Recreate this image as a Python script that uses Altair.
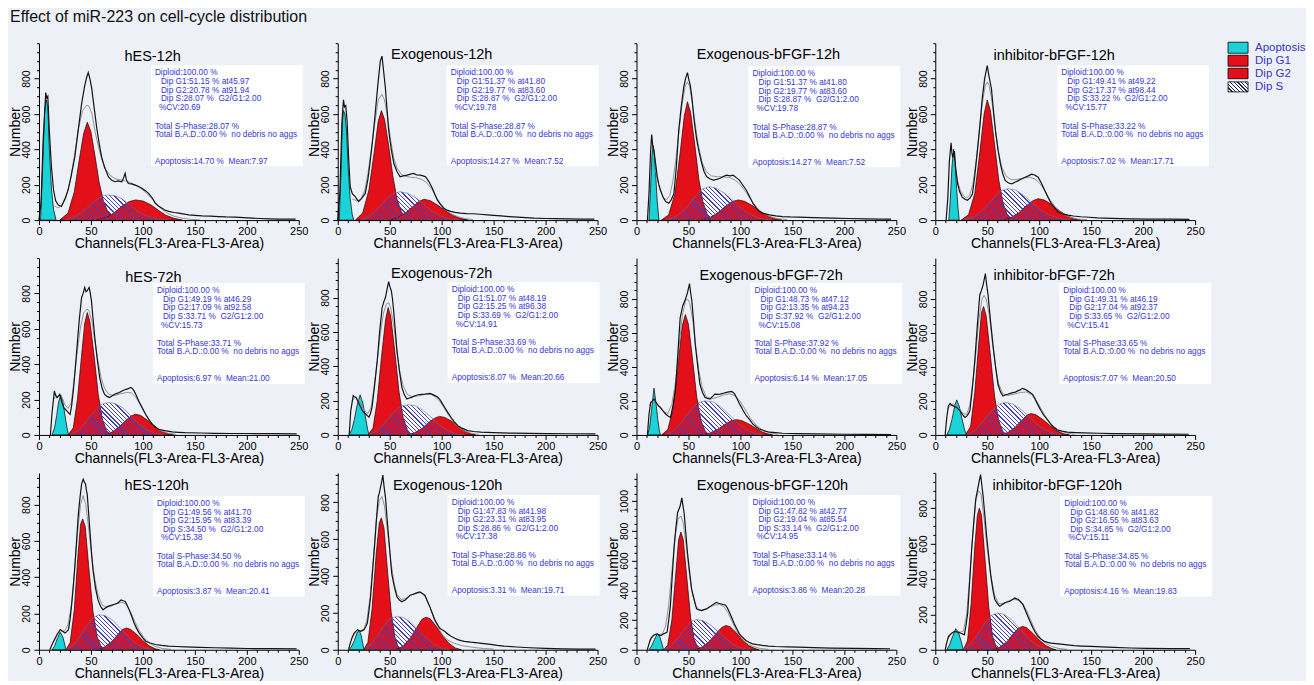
import math
import altair as alt
import pandas as pd

FONT = "Liberation Sans"
BG = "#eef0f7"
RED = "#e3101a"
CYAN = "#1ad3d8"
BLUE_TXT = "#3535d5"

PANELS = ["hES-12h", "Exogenous-12h", "Exogenous-bFGF-12h", "inhibitor-bFGF-12h",
          "hES-72h", "Exogenous-72h", "Exogenous-bFGF-72h", "inhibitor-bFGF-72h",
          "hES-120h", "Exogenous-120h", "Exogenous-bFGF-120h", "inhibitor-bFGF-120h"]
Y_TOP = [1000, 1000, 1000, 1000, 1000, 1030, 1040, 1040, 975, 960, 1190, 1000]
Y_LABEL_MAX = [800, 800, 800, 800, 800, 800, 800, 800, 800, 800, 1000, 800]

# statistics printed in the boxes
G1_PCT = [51.15, 51.37, 51.37, 49.41, 49.19, 51.07, 48.73, 49.31, 49.56, 47.83, 47.82, 48.60]
G1_AT = [45.97, 41.80, 41.80, 49.22, 46.29, 48.19, 47.12, 46.19, 41.70, 41.98, 42.77, 41.82]
G2_PCT = [20.78, 19.77, 19.77, 17.37, 17.09, 15.25, 13.35, 17.04, 15.95, 23.31, 19.04, 16.55]
G2_AT = [91.94, 83.60, 83.60, 98.44, 92.58, 96.38, 94.23, 92.37, 83.39, 83.95, 85.54, 83.63]
S_PCT = [28.07, 28.87, 28.87, 33.22, 33.71, 33.69, 37.92, 33.65, 34.50, 28.86, 33.14, 34.85]
CV = [20.69, 19.78, 19.78, 15.77, 15.73, 14.91, 15.08, 15.41, 15.38, 17.38, 14.95, 15.11]
APOP_PCT = [14.70, 14.27, 14.27, 7.02, 6.97, 8.07, 6.14, 7.07, 3.87, 3.31, 3.86, 4.16]
MEAN = [7.97, 7.52, 7.52, 17.71, 21.00, 20.66, 17.05, 20.50, 20.41, 19.71, 20.28, 19.83]

LEGEND_LABELS = ["Apoptosis", "Dip G1", "Dip G2", "Dip S"]

# raw histogram (black line), channel / count
HIST = {
    "hES-12h": [(0,0),(2,100),(4,450),(6.5,721),(7.5,690),(8.5,700),(10,500),(12,300),(14,170),(16,110),(18.4,86),(21.6,77),(25,120),(28,170),(31,250),(34.5,357),(38,520),(41,656),(44,760),(45.8,805),(47.4,834),(49,800),(50.6,750),(53,640),(55.5,525),(58,430),(60.3,357),(63,300),(66.8,245),(70,225),(73.2,217),(76,222),(79.7,217),(81.5,240),(82.9,264),(84,230),(86,207),(89,205),(92.6,198),(96,190),(99,180),(102,168),(105.5,151),(109,125),(112,95),(115,80),(118.4,67),(121,57),(124.8,49),(130,43),(134.5,39),(140,34),(144,30),(150,27),(157,24),(165,22),(173,20),(180,18),(189,17),(197,14),(205,11),(213,9),(221.6,7),(230,6),(238,6),(247,5)],
    "Exogenous-12h": [(0,0),(2,150),(4,550),(5.5,680),(6.5,640),(7.7,647),(9,560),(10.5,350),(12,189),(14,150),(16.8,133),(20,105),(23,123),(26.5,151),(29,230),(31,320),(33.5,450),(36,600),(38.5,760),(41,900),(42.6,927),(44,850),(45.8,750),(47.5,620),(49,507),(51.5,400),(54,320),(57,275),(60,245),(63,250),(66.8,254),(70,260),(73,264),(76,255),(79.7,254),(82,250),(84.5,245),(88,215),(91,180),(93.5,145),(95.8,114),(99,88),(102,67),(105,56),(108.7,49),(113,44),(118,39),(124,37),(131,36),(137,33),(144,30),(150,27),(157,24),(165,20),(173,17),(181,14),(189,11),(200,9),(210,8),(221.6,7),(235,6),(247,5)],
    "Exogenous-bFGF-12h": [(10.5,0),(12,150),(13.5,380),(14.6,484),(15.6,420),(16.8,394),(18.4,320),(20,245),(21.5,200),(23,170),(25.5,130),(28,105),(31,95),(33.5,115),(36,151),(38.3,300),(40.6,506),(43,640),(45.4,750),(47.2,800),(49,834),(50.5,790),(51.8,760),(53.3,693),(55.5,560),(58,450),(60.4,380),(62.8,320),(65,275),(67.6,245),(71,232),(74,226),(77,230),(80,235),(83,245),(86.6,254),(90,250),(93,254),(96,240),(99,226),(102,200),(105.6,170),(109,130),(112,95),(115,70),(118,49),(122,38),(128,30),(134,24),(140.5,20),(148,18),(156,17),(170,14),(188,11),(204,9),(220,7),(233,6),(245,5)],
    "inhibitor-bFGF-12h": [(10.4,0),(12,120),(13.5,330),(15.2,437),(16,380),(16.8,353),(17.6,375),(18.4,390),(19.5,300),(21.5,205),(23.5,160),(26,130),(28.5,118),(31,112),(33.5,125),(35.8,149),(38,250),(40.5,390),(43,540),(45.2,688),(47.5,800),(50,874),(51.5,820),(54,744),(56,620),(58,502),(60.3,400),(62.7,316),(65,260),(67.4,223),(70.5,210),(73.7,205),(77,215),(80,223),(83,232),(86.4,242),(89.5,250),(92.7,260),(95.5,255),(99,242),(102,210),(105.4,167),(108.5,128),(111.7,93),(115,68),(118,47),(122,36),(127.5,28),(133,23),(140,19),(148,16),(156,13),(170,10),(187.7,7),(205,6),(225,5),(244.6,4)],
    "hES-72h": [(11,0),(12.5,120),(14.8,249),(16,225),(17.4,211),(18.7,220),(20,230),(21.8,190),(23.7,155),(25.3,145),(26.8,136),(28.4,125),(30,117),(31.5,170),(33,249),(34.7,360),(36.3,475),(38.6,640),(41,777),(42.5,800),(44,834),(45.2,810),(46.4,815),(47.4,825),(48.3,834),(49.4,800),(50.5,758),(52,660),(53.7,551),(56,430),(58.4,325),(60.7,265),(63,230),(65.5,218),(67.9,211),(70.2,220),(72.6,230),(75,235),(77.3,240),(80.5,250),(83.6,258),(86,262),(88.4,268),(90,262),(91.5,249),(93.8,222),(96,192),(99.3,155),(102.6,117),(106,85),(109,60),(112,45),(115,32),(121,24),(128,17),(134,15),(140.5,13),(155,11),(169,9),(185,8),(200,8),(225,7),(248,6)],
    "Exogenous-72h": [(11,0),(12.5,140),(14.9,229),(16,222),(17.4,219),(19,200),(20.6,180),(22.2,160),(23.7,141),(25.3,130),(27,122),(28.5,112),(30,103),(31.5,125),(33,161),(35.5,290),(38,432),(40.3,600),(42.7,742),(44.3,775),(45.9,800),(47.5,850),(49,893),(50.3,860),(51.6,839),(52.7,790),(53.8,723),(55.5,600),(57,490),(59.4,370),(61.7,277),(64,235),(66.5,209),(68.8,215),(71,219),(74.2,228),(77.5,234),(80.8,236),(84,238),(86.3,240),(88.6,242),(91,236),(93.4,229),(95.7,222),(98,209),(100.4,185),(102.8,161),(106,130),(109,103),(112,78),(115.5,54),(120,38),(125,25),(131,20),(137.6,16),(150,13),(169,10),(185,9),(201,8),(225,7),(248,6)],
    "Exogenous-bFGF-72h": [(10.5,0),(12,120),(13.6,191),(15.2,200),(16.8,211),(18.4,195),(20,181),(21.5,170),(23,162),(25.5,142),(28,123),(30.4,112),(32.7,103),(35,170),(37.4,260),(39.7,470),(42,689),(44.5,760),(47,796),(49,835),(51,890),(52.2,830),(53.3,786),(55,660),(56.5,533),(58.8,410),(61,298),(63.5,250),(66,220),(68.3,215),(70.7,211),(73,225),(75.5,240),(78,238),(80.3,240),(83.5,245),(86.6,250),(89,253),(91.4,256),(93,250),(94.5,240),(97,210),(99.3,181),(102.5,145),(105.6,113),(109,88),(112,64),(115,48),(118,35),(123,24),(127.9,16),(134,13),(140.5,10),(155,8),(172,6),(200,4),(220,3),(245,2)],
    "inhibitor-bFGF-72h": [(9.5,0),(11,100),(12.6,170),(14.3,185),(15.8,175),(17.4,171),(19,166),(20.6,161),(22.2,152),(23.8,142),(26.2,120),(28.6,103),(31,115),(33.3,142),(35.6,270),(38,434),(40.4,640),(42.8,823),(44.4,850),(46,881),(47.1,915),(48.2,949),(49.5,880),(50.8,823),(53,680),(55.5,531),(58,400),(60.3,298),(62.6,255),(65,229),(67.4,235),(69.8,239),(72.2,244),(74.6,249),(77,252),(79.3,259),(81.6,265),(84,274),(86.4,268),(88.8,259),(91.2,250),(93.6,239),(96,212),(98.4,181),(101.5,145),(104.7,113),(108,88),(111,64),(114,45),(117.4,29),(122,22),(127,16),(135,14),(142.8,12),(157,10),(171,8),(200,6),(220,5),(244,4)],
    "hES-120h": [(10.4,0),(12.3,25),(14.2,47),(15.8,65),(17.4,84),(19,98),(20.5,111),(22.8,102),(25,93),(26.7,100),(28.4,111),(30,170),(31.6,257),(33.2,360),(34.7,475),(36.3,610),(37.9,749),(39.5,840),(41,913),(42.6,940),(43.7,925),(44.8,913),(45.6,880),(46.4,858),(47.7,760),(49,658),(50.5,540),(52,439),(54.4,340),(56.8,275),(59.2,240),(61.6,220),(64,230),(66.3,239),(68.6,243),(71,248),(73.4,252),(75.8,257),(77.4,266),(79,275),(81,270),(83,266),(84.9,245),(86.8,220),(89.2,185),(91.5,148),(93.9,118),(96.3,93),(99.5,68),(102.6,47),(107,37),(112,29),(118,24),(124.7,20),(132,18),(140.5,16),(155,13),(169,11),(185,9),(200,7),(225,6),(248,5)],
    "Exogenous-120h": [(10.4,0),(12,35),(14,70),(15.8,91),(17.4,100),(19,109),(20.5,104),(22,100),(23.6,104),(25.3,109),(26.9,125),(28.5,145),(30,210),(31.6,287),(33.7,440),(35.8,591),(37.4,720),(39,832),(40,850),(41,877),(42.2,910),(43.4,948),(44.7,880),(46,823),(47.5,710),(49,609),(50.5,510),(52,412),(54.5,340),(57,287),(59.3,270),(61.7,261),(63.4,266),(65,270),(67.3,283),(69.6,296),(72,300),(74.4,305),(76.7,310),(79,314),(81.5,305),(83.9,296),(86.2,265),(88.6,234),(91,198),(93.4,162),(95.7,140),(98,118),(100.4,108),(102.8,100),(105.9,86),(109,73),(112.2,64),(115.5,55),(118.6,50),(121.8,46),(128,41),(134.5,37),(140.8,33),(147,29),(153.5,24),(160,20),(172,15),(185,11),(200,8),(216.8,5),(232,4),(248,4)],
    "Exogenous-bFGF-120h": [(10.4,0),(12,40),(13.6,74),(15.2,90),(16.8,100),(18.4,104),(20,107),(21.5,100),(23,96),(24.5,100),(26,107),(27.7,112),(29.4,118),(31,200),(32.6,297),(34.4,500),(36.3,699),(37.9,820),(39.5,922),(40.8,945),(42,967),(43.6,1022),(44.7,970),(45.8,922),(47.4,790),(49,654),(51,530),(53,408),(55.4,340),(57.8,275),(60.2,268),(62.6,263),(65,270),(67.3,275),(69.7,286),(72,297),(74.4,308),(76.8,319),(79.1,313),(81.5,308),(83.5,304),(85.6,301),(87.5,280),(89.4,252),(91.8,213),(94.2,174),(96.6,140),(99,107),(102,84),(105.2,62),(108.4,50),(111.6,40),(116,34),(121,29),(127,25),(133.7,22),(145,20),(155.8,18),(170,14),(187.4,11),(210,9),(230,8),(244,7)],
    "inhibitor-bFGF-120h": [(9.5,0),(11,40),(12.7,76),(14.3,86),(16,95),(17.5,100),(19,104),(21.5,100),(24,95),(26,90),(28,85),(29.6,140),(31.2,208),(33,380),(35,567),(37,720),(38.9,851),(40.2,890),(41.4,926),(42.5,960),(43.6,990),(44.8,930),(46,870),(47.7,760),(49.4,643),(51.4,530),(53.5,416),(55.4,340),(57.3,284),(59.6,262),(62,246),(64.5,256),(66.9,265),(69.3,270),(71.7,274),(74,283),(76.4,293),(78.2,288),(80,284),(82.2,270),(84.4,255),(86.7,222),(89,189),(91.5,155),(94,123),(96.3,98),(98.7,76),(101.8,60),(105,47),(108.3,42),(111.5,38),(116,35),(121,32),(127,28),(133.8,23),(141,21),(149.7,19),(160,16),(172,13),(188,10),(203.8,8),(225,7),(245,6)],
}

# model fit (grey line)
FIT = {
    "hES-12h": [(15,80),(18,70),(22,80),(26,125),(30,220),(34,360),(38,520),(42,620),(46,650),(48,645),(51,600),(54,500),(57,420),(60,350),(64,290),(68,255),(73,235),(78,228),(83,222),(88,212),(93,198),(98,180),(103,155),(108,125),(113,92),(118,62),(124,38),(130,22),(138,10),(146,4),(155,1)],
    "Exogenous-12h": [(14,120),(18,110),(22,115),(26,170),(29,260),(32,390),(36,560),(39,680),(42.5,712),(45,680),(48,580),(51,450),(54,350),(57,295),(61,260),(65,248),(70,242),(75,240),(80,232),(85,215),(90,180),(94,140),(98,100),(103,65),(108,40),(115,20),(122,9),(130,3)],
    "Exogenous-bFGF-12h": [(18,290),(20,230),(23,165),(26,125),(29,115),(32,140),(35,220),(38,350),(41,510),(44,660),(47,760),(49,780),(51,760),(54,650),(57,520),(60,410),(63,330),(67,275),(72,250),(78,245),(84,244),(90,240),(95,225),(100,200),(105,160),(110,115),(115,75),(121,42),(128,20),(136,8),(145,3)],
    "inhibitor-bFGF-12h": [(19,330),(21,230),(24,170),(27,140),(30,125),(33,140),(36,200),(39,320),(42,480),(45,650),(48,760),(50,781),(52,760),(55,650),(58,500),(61,380),(64,300),(68,250),(73,228),(79,230),(85,238),(91,242),(96,232),(101,205),(106,160),(111,110),(116,70),(122,38),(129,17),(137,6),(146,2)],
    "hES-72h": [(14,200),(16,215),(19,222),(22,215),(25,170),(28,150),(31,180),(34,320),(37,480),(40,610),(43,690),(46,711),(48,705),(51,640),(54,520),(57,410),(60,320),(63,265),(67,230),(72,222),(78,232),(84,240),(89,238),(93,215),(97,175),(101,130),(106,85),(111,50),(117,25),(124,10),(132,3)],
    "Exogenous-72h": [(14,200),(17,220),(20,205),(23,170),(26,140),(29,125),(32,160),(35,280),(38,430),(41,590),(44,710),(47,765),(49,770),(51,740),(54,630),(57,480),(60,360),(63,285),(67,235),(72,222),(78,228),(84,236),(90,236),(95,218),(100,180),(105,130),(110,85),(115,50),(121,25),(128,10),(136,3)],
    "Exogenous-bFGF-72h": [(12,170),(15,195),(18,190),(21,170),(24,150),(27,135),(30,125),(34,180),(38,330),(41,520),(44,700),(47,785),(49,800),(51,780),(54,680),(57,520),(60,380),(63,285),(67,225),(72,212),(78,222),(84,236),(90,242),(95,230),(100,195),(105,145),(110,95),(115,58),(121,30),(128,12),(136,4)],
    "inhibitor-bFGF-72h": [(12,150),(15,178),(18,182),(21,170),(24,148),(27,125),(30,120),(33,170),(36,300),(39,480),(42,680),(45,800),(47,820),(49,800),(52,700),(55,540),(58,400),(61,300),(65,242),(70,232),(76,240),(82,250),(88,252),(93,235),(98,195),(103,140),(108,92),(113,55),(119,28),(126,11),(134,4)],
    "hES-120h": [(13,40),(16,70),(19,95),(22,100),(25,105),(28,140),(31,240),(34,420),(37,640),(40,800),(42.5,850),(45,800),(48,660),(51,500),(54,380),(57,300),(61,245),(65,235),(70,242),(75,255),(80,262),(84,250),(88,210),(92,160),(96,110),(101,68),(106,38),(112,18),(119,7),(127,2)],
    "Exogenous-120h": [(13,55),(16,85),(19,100),(22,105),(25,110),(28,160),(31,280),(34,480),(37,700),(40,810),(42.5,832),(45,780),(48,640),(51,480),(54,370),(57,300),(61,272),(65,278),(70,295),(75,308),(80,310),(84,290),(88,240),(92,180),(96,125),(101,80),(106,52),(112,35),(120,22),(130,13),(140,7),(150,4)],
    "Exogenous-bFGF-120h": [(13,60),(16,90),(19,103),(22,103),(25,108),(28,160),(31,300),(34,530),(37,760),(40,880),(42.7,900),(45,850),(48,690),(51,500),(54,370),(57,295),(61,265),(65,268),(70,285),(75,300),(80,305),(84,290),(88,250),(92,190),(96,130),(101,78),(106,45),(112,22),(119,9),(127,3)],
    "inhibitor-bFGF-120h": [(12,60),(15,88),(18,100),(21,105),(24,100),(27,105),(30,190),(33,400),(36,650),(39,840),(41.5,900),(44,880),(47,740),(50,570),(53,430),(57,310),(61,260),(65,262),(70,275),(75,285),(80,280),(84,262),(88,220),(92,165),(96,112),(101,68),(106,38),(112,18),(119,7),(127,2)],
}

APOP = {
    "hES-12h": [(1.5,0),(3.5,300),(5.5,620),(7,680),(8.5,640),(10,400),(12,180),(14,60),(16.5,0)],
    "Exogenous-12h": [(1.5,0),(3,250),(4.5,560),(5.5,619),(7,600),(8.5,500),(10,300),(12,120),(14,30),(15.5,0)],
    "Exogenous-bFGF-12h": [(12,0),(13.5,180),(14.8,360),(15.9,422),(17,380),(18.5,250),(20,100),(21.6,0)],
    "inhibitor-bFGF-12h": [(13,0),(14.5,120),(16,300),(17.7,400),(19,330),(20.5,180),(22,60),(23,0)],
    "hES-72h": [(12.6,0),(15,40),(17,110),(19,190),(21,226),(23,190),(25,110),(27,40),(28.4,0)],
    "Exogenous-72h": [(11,0),(13.5,30),(16,90),(18.5,170),(21.5,233),(24,190),(26.5,110),(28.5,40),(30,0)],
    "Exogenous-bFGF-72h": [(10.5,0),(12.5,40),(14.5,150),(16.8,275),(18.5,200),(20.5,90),(22,25),(23,0)],
    "inhibitor-bFGF-72h": [(11,0),(13.5,30),(16,90),(18.5,165),(20.6,206),(23,170),(25.5,100),(28,35),(30,0)],
    "hES-120h": [(12.6,0),(15,20),(17.5,60),(20.5,97),(23,70),(25,25),(26,0)],
    "Exogenous-120h": [(11,0),(13.5,20),(16,50),(18.5,90),(20.6,105),(22.5,80),(24,35),(25.3,0)],
    "Exogenous-bFGF-120h": [(12,0),(14.5,25),(17,65),(20,107),(22.5,85),(24.5,40),(26,0)],
    "inhibitor-bFGF-120h": [(11,0),(13.5,25),(16,65),(19.7,119),(22.5,95),(25,45),(27,0)],
}

G1 = {
    "hES-12h": [(20,0),(28,40),(34,160),(39,350),(43,490),(46.5,553),(50,500),(54,360),(58,210),(62,110),(66,50),(72,12),(76,0)],
    "Exogenous-12h": [(17,0),(24,40),(30,170),(35,380),(39,560),(42,619),(45,570),(49,420),(53,250),(57,120),(61,50),(66,10),(70,0)],
    "Exogenous-bFGF-12h": [(24,0),(31,30),(37,150),(42,380),(46,590),(49,669),(52,610),(56,430),(60,230),(64,100),(68,35),(73,5),(76,0)],
    "inhibitor-bFGF-12h": [(25,0),(32,30),(38,150),(43,390),(47,600),(50,679),(53,620),(57,430),(61,230),(65,100),(69,35),(74,5),(77,0)],
    "hES-72h": [(28,0),(33,40),(37,200),(41,450),(44,630),(46.5,692),(49,640),(53,450),(57,230),(61,90),(65,25),(69,0)],
    "Exogenous-72h": [(29,0),(34,40),(38,200),(42,450),(46,670),(48.5,742),(51,690),(55,480),(59,250),(63,100),(67,30),(71,0)],
    "Exogenous-bFGF-72h": [(24,0),(30,30),(35,150),(40,420),(44,640),(47,708),(50,650),(54,440),(58,220),(62,85),(66,25),(70,0)],
    "inhibitor-bFGF-72h": [(29,0),(34,50),(38,250),(42,550),(44.5,720),(46.5,755),(49,700),(53,470),(57,230),(61,85),(65,20),(69,0)],
    "hES-120h": [(26,0),(30,40),(34,220),(37.5,520),(40,690),(42,721),(44.5,680),(48,450),(52,210),(56,70),(60,15),(63,0)],
    "Exogenous-120h": [(25,0),(29,40),(33,220),(37,520),(40,690),(42,716),(44.5,660),(48,420),(51.5,200),(55,70),(58,15),(61,0)],
    "Exogenous-bFGF-120h": [(26,0),(30,30),(34,200),(38,530),(40.5,740),(42.7,792),(45,740),(48.5,480),(52,220),(55.5,70),(59,15),(62,0)],
    "inhibitor-bFGF-120h": [(27,0),(31,50),(34.5,260),(38,580),(40.5,760),(42.4,800),(44.5,760),(48,500),(51.5,240),(55,80),(58.5,15),(62,0)],
}

SPH = {
    "hES-12h": [(25,0),(35,20),(45,60),(55,115),(62,138),(67,142),(73,138),(80,120),(88,85),(95,50),(105,20),(115,5),(125,0)],
    "Exogenous-12h": [(22,0),(30,20),(38,60),(46,115),(53,150),(60,160),(67,152),(74,130),(82,95),(90,55),(98,25),(108,5),(118,0)],
    "Exogenous-bFGF-12h": [(28,0),(38,20),(48,70),(56,130),(63,175),(70,189),(77,180),(85,150),(93,110),(101,65),(110,30),(120,8),(130,0)],
    "inhibitor-bFGF-12h": [(28,0),(38,20),(48,70),(56,125),(63,165),(70,177),(77,170),(85,140),(93,100),(101,60),(110,28),(120,8),(130,0)],
    "hES-72h": [(30,0),(38,25),(46,80),(54,140),(61,175),(67,183),(73,178),(80,155),(87,115),(95,70),(103,30),(112,8),(120,0)],
    "Exogenous-72h": [(30,0),(38,25),(46,75),(54,135),(61,168),(68,176),(74,170),(81,148),(89,108),(97,62),(105,28),(114,6),(122,0)],
    "Exogenous-bFGF-72h": [(28,0),(36,25),(44,80),(52,145),(59,190),(66,200),(73,195),(81,165),(89,120),(97,72),(105,32),(114,8),(122,0)],
    "inhibitor-bFGF-72h": [(30,0),(38,25),(46,80),(54,140),(61,180),(67,191),(74,183),(81,158),(89,115),(97,68),(105,30),(114,8),(122,0)],
    "hES-120h": [(26,0),(33,25),(40,80),(47,140),(53,180),(58,193),(64,188),(71,162),(78,120),(86,72),(94,32),(102,8),(110,0)],
    "Exogenous-120h": [(24,0),(31,25),(38,75),(45,135),(51,172),(57,180),(63,175),(70,150),(77,110),(85,65),(93,28),(101,6),(108,0)],
    "Exogenous-bFGF-120h": [(26,0),(33,25),(40,80),(47,145),(53,190),(58,203),(64,196),(71,168),(78,125),(86,75),(94,32),(102,8),(110,0)],
    "inhibitor-bFGF-120h": [(26,0),(33,25),(40,80),(47,145),(54,195),(60,208),(66,200),(73,172),(80,128),(88,75),(96,32),(104,8),(112,0)],
}

G2 = {
    "hES-12h": [(55,0),(65,15),(72,40),(80,80),(87,105),(93,114),(100,108),(108,85),(115,55),(122,28),(130,10),(138,0)],
    "Exogenous-12h": [(50,0),(58,15),(65,40),(72,75),(78,105),(83,118),(89,110),(96,85),(103,55),(110,28),(118,10),(126,0)],
    "Exogenous-bFGF-12h": [(62,0),(70,12),(78,40),(85,75),(92,105),(98,114),(104,106),(112,80),(119,50),(126,25),(133,8),(140,0)],
    "inhibitor-bFGF-12h": [(64,0),(72,12),(80,40),(87,78),(94,110),(99,121),(105,113),(112,88),(119,55),(126,27),(133,9),(140,0)],
    "hES-72h": [(62,0),(70,15),(77,45),(84,85),(89,108),(93,117),(98,110),(105,80),(112,45),(118,20),(125,5),(130,0)],
    "Exogenous-72h": [(66,0),(74,12),(81,38),(88,75),(94,100),(98,108),(103,102),(110,78),(117,45),(123,20),(129,5),(133,0)],
    "Exogenous-bFGF-72h": [(62,0),(70,10),(78,32),(85,62),(91,84),(96,90),(101,85),(108,65),(115,38),(121,17),(127,5),(131,0)],
    "inhibitor-bFGF-72h": [(62,0),(70,15),(77,45),(83,85),(88,115),(92,126),(97,118),(104,88),(111,52),(117,24),(124,6),(129,0)],
    "hES-120h": [(56,0),(63,15),(70,45),(76,85),(80,110),(84,120),(88,113),(94,85),(100,50),(106,22),(112,5),(116,0)],
    "Exogenous-120h": [(56,0),(63,20),(70,65),(76,120),(81,165),(85,177),(89,168),(95,125),(101,75),(107,35),(113,10),(119,0)],
    "Exogenous-bFGF-120h": [(56,0),(63,18),(70,55),(76,105),(82,150),(86,163),(90,155),(96,115),(102,65),(108,28),(114,8),(118,0)],
    "inhibitor-bFGF-120h": [(55,0),(62,15),(69,45),(75,90),(80,122),(84,132),(88,125),(94,92),(100,55),(106,25),(112,7),(116,0)],
}

# ---- layout / style (pixels relative to each plot area) ----
W, H = 260, 177
TITLE_POS = [(113.7, 13.7), (104, 12), (132, 12), (119, 13), (114.5, 19.7), (104, 16),
             (134.7, 18), (119, 18), (117.7, 12.7), (110, 12.7), (136, 12.7), (122, 12.7)]
BOX_POS = [(112, 22), (109, 22), (112, 23), (122, 22), (114, 25), (110, 24),
           (114, 25), (124, 25), (114, 23), (110, 22), (112, 22), (125, 23)]
BOX_W, BOX_H = 152, 101
NB = "\u00a0"


def hatch(w_px, h_px, period=3.0, color="#4040b8", duty=0.3):
    r = h_px / w_px
    s = (1 + r) / (1 + r * r)
    n = max(4, int(round((w_px + h_px) / math.sqrt(2) / period)))
    clear = "rgba(255,255,255,0)"
    stops = []
    for k in range(n):
        a, b, c = k / n, (k + duty) / n, (k + 1) / n
        stops += [{"offset": a, "color": color}, {"offset": b, "color": color},
                  {"offset": b, "color": clear}, {"offset": c, "color": clear}]
    return {"gradient": "linear", "x1": 0, "y1": 1, "x2": s, "y2": 1 - s * r, "stops": stops}


def df(pts):
    return pd.DataFrame(pts, columns=["x", "y"])


ONE = pd.DataFrame({"k": [0]})


def make_panel(i):
    name = PANELS[i]
    ytop = Y_TOP[i]
    lmax = Y_LABEL_MAX[i]
    xaxis = alt.Axis(values=list(range(0, 251, 10)),
                     labelExpr="datum.value % 50 === 0 ? datum.label : ''",
                     tickSize={"condition": {"test": "datum.value % 50 === 0", "value": 4.5}, "value": 2.5},
                     title="Channels(FL3-Area-FL3-Area)", titleFontSize=14, labelFontSize=11,
                     labelPadding=1, titlePadding=0, labelFlush=False, labelOverlap=False,
                     format="d", zindex=1)
    ytest = f"datum.value % 200 === 0 && datum.value <= {lmax}"
    yaxis = alt.Axis(values=list(range(0, ytop + 1, 50)),
                     labelExpr=f"{ytest} ? datum.label : ''",
                     tickSize={"condition": {"test": ytest, "value": 5}, "value": 2.5},
                     title="Number", titleFontSize=14, labelFontSize=10.5, labelAngle=270,
                     labelAlign="center", labelBaseline="bottom", labelPadding=2,
                     titlePadding=-1, labelFlush=False, labelOverlap=False, format="d", zindex=1)
    enc = dict(x=alt.X("x:Q", scale=alt.Scale(domain=[0, 250], nice=False, zero=False), axis=xaxis),
               y=alt.Y("y:Q", scale=alt.Scale(domain=[0, ytop], nice=False), axis=yaxis))

    s_pts = SPH[name]
    xs = [p[0] for p in s_pts]
    w_px = (max(xs) - min(xs)) / 250 * W
    h_px = max(p[1] for p in s_pts) / ytop * H

    layers = [
        alt.Chart(df(s_pts)).mark_area(fill="#fbfbff", opacity=1).encode(**enc),
        alt.Chart(df(G1[name])).mark_area(fill=RED, stroke="#2a0000", strokeWidth=0.7, opacity=1).encode(**enc),
        alt.Chart(df(G2[name])).mark_area(fill=RED, stroke="#2a0000", strokeWidth=0.7, opacity=1).encode(**enc),
        alt.Chart(df(s_pts)).mark_area(fill=hatch(w_px, h_px), stroke="#6a6a8a", strokeWidth=0.6, opacity=1).encode(**enc),
        alt.Chart(df(APOP[name])).mark_area(fill=CYAN, stroke="#000000", strokeWidth=0.7, opacity=1).encode(**enc),
        alt.Chart(df(FIT[name])).mark_line(color="#8a8a8a", strokeWidth=0.9).encode(**enc),
        alt.Chart(df(HIST[name])).mark_line(color="#141414", strokeWidth=1.2).encode(**enc),
    ]

    bx, by = BOX_POS[i]
    layers.append(alt.Chart(ONE).mark_rect(fill="white").encode(
        x=alt.value(bx), x2=alt.value(bx + BOX_W), y=alt.value(by), y2=alt.value(by + BOX_H)))
    lines = [
        (4, 7.7, "Diploid:100.00 %"),
        (10, 16.8, f"Dip G1:{G1_PCT[i]:.2f} % at{G1_AT[i]:.2f}"),
        (10, 25.4, f"Dip G2:{G2_PCT[i]:.2f} % at{G2_AT[i]:.2f}"),
        (10, 34.0, f"Dip S:{S_PCT[i]:.2f} %{NB} G2/G1:2.00"),
        (8, 42.6, f"%CV:{CV[i]:.2f}"),
        (4, 61.5, f"Total S-Phase:{S_PCT[i]:.2f} %"),
        (4, 69.5, f"Total B.A.D.:0.00 %{NB} no debris no aggs"),
        (4, 96.5, f"Apoptosis:{APOP_PCT[i]:.2f} %{NB} Mean:{MEAN[i]:.2f}"),
    ]
    for dx, dy, t in lines:
        layers.append(alt.Chart(ONE).mark_text(text=t, align="left", baseline="middle", fontSize=8.3,
                                               font=FONT, color=BLUE_TXT).encode(
            x=alt.value(bx + dx), y=alt.value(by + dy)))
    tx, ty = TITLE_POS[i]
    layers.append(alt.Chart(ONE).mark_text(text=name, align="center", baseline="middle", fontSize=14.5,
                                           font=FONT, color="black").encode(
        x=alt.value(tx), y=alt.value(ty)))

    if i == 3:
        sw_y = [(-1, 10), (12, 23), (25, 35.5), (38.7, 48.7)]
        fills = [CYAN, RED, RED, None]
        for (y0, y1), f, lab in zip(sw_y, fills, LEGEND_LABELS):
            fill = f if f else hatch(20, y1 - y0, period=2.8, color="#202060", duty=0.35)
            if f is None:
                layers.append(alt.Chart(ONE).mark_rect(fill="white").encode(
                    x=alt.value(293), x2=alt.value(313), y=alt.value(y0), y2=alt.value(y1)))
            layers.append(alt.Chart(ONE).mark_rect(fill=fill, stroke="black", strokeWidth=0.8).encode(
                x=alt.value(293), x2=alt.value(313), y=alt.value(y0), y2=alt.value(y1)))
            layers.append(alt.Chart(ONE).mark_text(text=lab, align="left", baseline="middle", fontSize=11.5,
                                                   font=FONT, color="#3434c8").encode(
                x=alt.value(320), y=alt.value((y0 + y1) / 2 + 0.5)))

    return alt.layer(*layers).properties(width=W, height=H)


panels = [make_panel(i) for i in range(12)]

chart = alt.concat(*panels, columns=4).properties(
    spacing={"row": 38, "column": 39},
    bounds="flush",
    padding={"left": 1, "top": 0, "right": 0, "bottom": 0},
    title=alt.Title("Effect of miR-223 on cell-cycle distribution", anchor="start", fontSize=16,
                    font=FONT, fontWeight="normal", color="#111111", offset=17, dx=1),
).configure(background=BG, font=FONT).configure_view(stroke=None).configure_axis(
    domainColor="black", tickColor="black", labelColor="black", titleColor="black",
    labelFont=FONT, titleFont=FONT, titleFontWeight="normal", grid=False, domainWidth=1, tickWidth=1)

chart.save("out.html", embed_options={"renderer": "svg", "actions": False})
